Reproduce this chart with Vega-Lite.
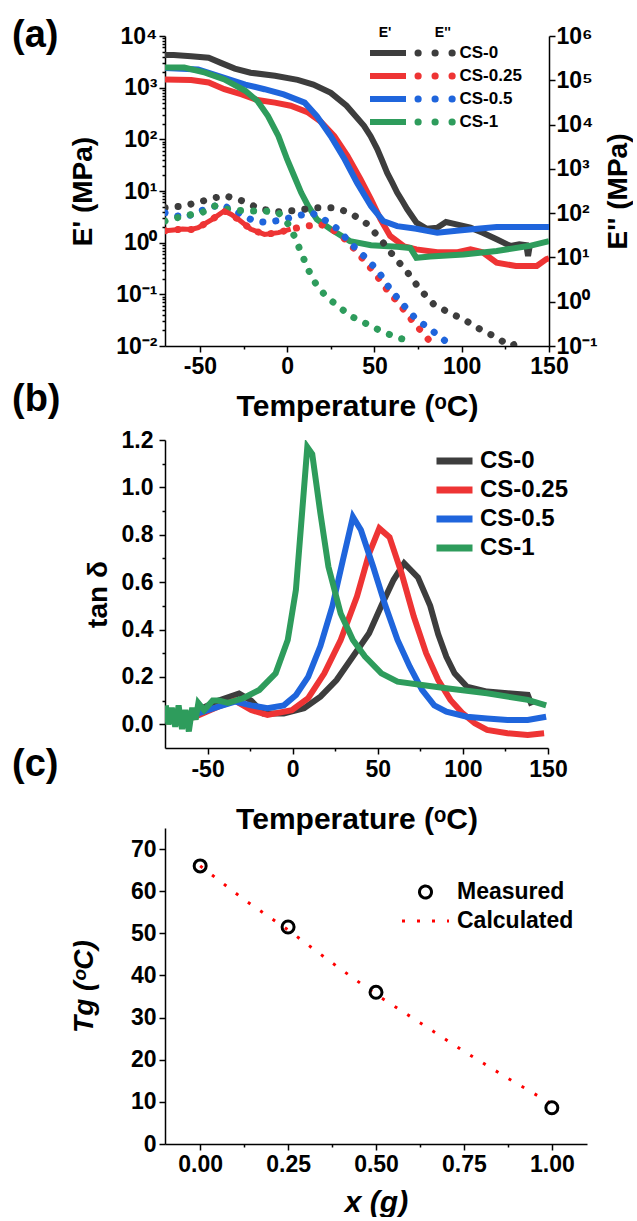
{
"$schema": "https://vega.github.io/schema/vega-lite/v6.json",
"background": "white",
"padding": {"left": 12, "top": 17, "right": 0, "bottom": 0},
"bounds": "flush",
"spacing": 94,
"resolve": {"scale": {"color": "independent", "stroke": "independent"}, "legend": {"color": "independent", "stroke": "independent"}},
"datasets": {
"ep": [
{"sample":"CS-0","T":-70,"E":4266},{"sample":"CS-0","T":-65,"E":4266},{"sample":"CS-0","T":-55,"E":4074},{"sample":"CS-0","T":-45,"E":3802},{"sample":"CS-0","T":-38,"E":3020},{"sample":"CS-0","T":-30,"E":2344},{"sample":"CS-0","T":-21,"E":1950},{"sample":"CS-0","T":-7,"E":1698},{"sample":"CS-0","T":6,"E":1413},{"sample":"CS-0","T":15,"E":1148},{"sample":"CS-0","T":25,"E":794},{"sample":"CS-0","T":34,"E":447},{"sample":"CS-0","T":44,"E":182},{"sample":"CS-0","T":47.8,"E":115},{"sample":"CS-0","T":51.6,"E":64.6},{"sample":"CS-0","T":54.5,"E":38},{"sample":"CS-0","T":57.3,"E":22.4},{"sample":"CS-0","T":60.2,"E":14.5},{"sample":"CS-0","T":63,"E":9.33},{"sample":"CS-0","T":65.9,"E":6.46},{"sample":"CS-0","T":68.7,"E":4.47},{"sample":"CS-0","T":74,"E":2.45},{"sample":"CS-0","T":80,"E":1.86},{"sample":"CS-0","T":86,"E":1.95},{"sample":"CS-0","T":91,"E":2.51},{"sample":"CS-0","T":97,"E":2.26},{"sample":"CS-0","T":105,"E":1.95},{"sample":"CS-0","T":112,"E":1.55},{"sample":"CS-0","T":120,"E":1.16},{"sample":"CS-0","T":128,"E":0.86},{"sample":"CS-0","T":133,"E":0.93},{"sample":"CS-0","T":137,"E":0.89},{"sample":"CS-0","T":138,"E":0.55},{"sample":"CS-0","T":139,"E":0.89},
{"sample":"CS-0.25","T":-70,"E":1445},{"sample":"CS-0.25","T":-55,"E":1413},{"sample":"CS-0.25","T":-45,"E":1259},{"sample":"CS-0.25","T":-36,"E":933},{"sample":"CS-0.25","T":-26,"E":741},{"sample":"CS-0.25","T":-17,"E":575},{"sample":"CS-0.25","T":-7,"E":513},{"sample":"CS-0.25","T":2,"E":447},{"sample":"CS-0.25","T":12,"E":331},{"sample":"CS-0.25","T":19,"E":224},{"sample":"CS-0.25","T":27,"E":115},{"sample":"CS-0.25","T":34.5,"E":47.9},{"sample":"CS-0.25","T":42,"E":17},{"sample":"CS-0.25","T":48,"E":6.92},{"sample":"CS-0.25","T":53.5,"E":2.82},{"sample":"CS-0.25","T":59,"E":1.35},{"sample":"CS-0.25","T":67,"E":0.85},{"sample":"CS-0.25","T":74,"E":0.74},{"sample":"CS-0.25","T":86,"E":0.65},{"sample":"CS-0.25","T":97,"E":0.65},{"sample":"CS-0.25","T":105,"E":0.74},{"sample":"CS-0.25","T":112,"E":0.65},{"sample":"CS-0.25","T":120,"E":0.41},{"sample":"CS-0.25","T":131,"E":0.355},{"sample":"CS-0.25","T":143,"E":0.355},{"sample":"CS-0.25","T":148.5,"E":0.48},{"sample":"CS-0.25","T":150,"E":0.5},
{"sample":"CS-0.5","T":-70,"E":2399},{"sample":"CS-0.5","T":-51,"E":2239},{"sample":"CS-0.5","T":-36,"E":1549},{"sample":"CS-0.5","T":-24,"E":1148},{"sample":"CS-0.5","T":-13,"E":933},{"sample":"CS-0.5","T":-2,"E":741},{"sample":"CS-0.5","T":10,"E":513},{"sample":"CS-0.5","T":17,"E":282},{"sample":"CS-0.5","T":25,"E":115},{"sample":"CS-0.5","T":33,"E":40.7},{"sample":"CS-0.5","T":40,"E":14.5},{"sample":"CS-0.5","T":48,"E":5.13},{"sample":"CS-0.5","T":55,"E":2.63},{"sample":"CS-0.5","T":63,"E":2.09},{"sample":"CS-0.5","T":74,"E":1.86},{"sample":"CS-0.5","T":86,"E":1.55},{"sample":"CS-0.5","T":97,"E":1.7},{"sample":"CS-0.5","T":109,"E":1.86},{"sample":"CS-0.5","T":120,"E":2.0},{"sample":"CS-0.5","T":150,"E":2.0},
{"sample":"CS-1","T":-70,"E":2455},{"sample":"CS-1","T":-59,"E":2455},{"sample":"CS-1","T":-47,"E":1950},{"sample":"CS-1","T":-36,"E":1445},{"sample":"CS-1","T":-24,"E":871},{"sample":"CS-1","T":-17,"E":550},{"sample":"CS-1","T":-11,"E":282},{"sample":"CS-1","T":-5,"E":115},{"sample":"CS-1","T":0,"E":40.7},{"sample":"CS-1","T":4,"E":19.5},{"sample":"CS-1","T":8,"E":9.33},{"sample":"CS-1","T":12,"E":5.13},{"sample":"CS-1","T":17,"E":2.82},{"sample":"CS-1","T":25,"E":1.82},{"sample":"CS-1","T":36,"E":1.07},{"sample":"CS-1","T":48,"E":0.89},{"sample":"CS-1","T":63,"E":0.83},{"sample":"CS-1","T":70.5,"E":0.79},{"sample":"CS-1","T":74,"E":0.51},{"sample":"CS-1","T":82,"E":0.54},{"sample":"CS-1","T":101,"E":0.59},{"sample":"CS-1","T":120,"E":0.69},{"sample":"CS-1","T":139,"E":0.87},{"sample":"CS-1","T":150,"E":1.07}
],
"epp": [
{"grade":"CS-0","T":-70,"E2":133},{"grade":"CS-0","T":-59,"E2":145},{"grade":"CS-0","T":-45,"E2":204},{"grade":"CS-0","T":-36,"E2":251},{"grade":"CS-0","T":-26,"E2":191},{"grade":"CS-0","T":-15,"E2":123},{"grade":"CS-0","T":-5,"E2":107},{"grade":"CS-0","T":6,"E2":117},{"grade":"CS-0","T":17,"E2":133},{"grade":"CS-0","T":27,"E2":133},{"grade":"CS-0","T":36,"E2":102},{"grade":"CS-0","T":46,"E2":56.2},{"grade":"CS-0","T":53.5,"E2":25.7},{"grade":"CS-0","T":61,"E2":10.7},{"grade":"CS-0","T":69,"E2":4.57},{"grade":"CS-0","T":76,"E2":1.91},{"grade":"CS-0","T":84,"E2":0.87},{"grade":"CS-0","T":93,"E2":0.56},{"grade":"CS-0","T":101,"E2":0.4},{"grade":"CS-0","T":110.5,"E2":0.24},{"grade":"CS-0","T":120,"E2":0.155},{"grade":"CS-0","T":127.6,"E2":0.1},{"grade":"CS-0","T":135,"E2":0.126},
{"grade":"CS-0.25","T":-70,"E2":39.8},{"grade":"CS-0.25","T":-65,"E2":41.7},{"grade":"CS-0.25","T":-60,"E2":43.7},{"grade":"CS-0.25","T":-55,"E2":42.7},{"grade":"CS-0.25","T":-51,"E2":46.8},{"grade":"CS-0.25","T":-43,"E2":72.4},{"grade":"CS-0.25","T":-36,"E2":112},{"grade":"CS-0.25","T":-32,"E2":93.3},{"grade":"CS-0.25","T":-28,"E2":72.4},{"grade":"CS-0.25","T":-21,"E2":43.7},{"grade":"CS-0.25","T":-13,"E2":33.1},{"grade":"CS-0.25","T":-5,"E2":36.3},{"grade":"CS-0.25","T":2,"E2":43.7},{"grade":"CS-0.25","T":12,"E2":51.3},{"grade":"CS-0.25","T":19,"E2":56.2},{"grade":"CS-0.25","T":27,"E2":39.8},{"grade":"CS-0.25","T":34.5,"E2":23.4},{"grade":"CS-0.25","T":42,"E2":10.7},{"grade":"CS-0.25","T":50,"E2":4.57},{"grade":"CS-0.25","T":57,"E2":1.91},{"grade":"CS-0.25","T":65,"E2":0.81},{"grade":"CS-0.25","T":72.5,"E2":0.34},{"grade":"CS-0.25","T":80,"E2":0.155},{"grade":"CS-0.25","T":84,"E2":0.1},
{"grade":"CS-0.5","T":-70,"E2":102},{"grade":"CS-0.5","T":-59,"E2":79.4},{"grade":"CS-0.5","T":-47,"E2":123},{"grade":"CS-0.5","T":-38,"E2":158},{"grade":"CS-0.5","T":-28,"E2":102},{"grade":"CS-0.5","T":-19,"E2":66.1},{"grade":"CS-0.5","T":-11,"E2":61.7},{"grade":"CS-0.5","T":-2,"E2":72.4},{"grade":"CS-0.5","T":6,"E2":87.1},{"grade":"CS-0.5","T":14,"E2":102},{"grade":"CS-0.5","T":21,"E2":72.4},{"grade":"CS-0.5","T":29,"E2":43.7},{"grade":"CS-0.5","T":36,"E2":21.4},{"grade":"CS-0.5","T":44,"E2":10.7},{"grade":"CS-0.5","T":52,"E2":5.01},{"grade":"CS-0.5","T":59,"E2":1.91},{"grade":"CS-0.5","T":67,"E2":0.81},{"grade":"CS-0.5","T":74,"E2":0.4},{"grade":"CS-0.5","T":82,"E2":0.24},{"grade":"CS-0.5","T":88,"E2":0.155},{"grade":"CS-0.5","T":93,"E2":0.11},
{"grade":"CS-1","T":-70,"E2":66.1},{"grade":"CS-1","T":-59,"E2":87.1},{"grade":"CS-1","T":-49,"E2":102},{"grade":"CS-1","T":-41.5,"E2":145},{"grade":"CS-1","T":-32,"E2":117},{"grade":"CS-1","T":-22.5,"E2":112},{"grade":"CS-1","T":-13,"E2":112},{"grade":"CS-1","T":-5,"E2":102},{"grade":"CS-1","T":0,"E2":61.7},{"grade":"CS-1","T":4,"E2":30.9},{"grade":"CS-1","T":8,"E2":12.9},{"grade":"CS-1","T":12,"E2":5.37},{"grade":"CS-1","T":17,"E2":2.29},{"grade":"CS-1","T":23,"E2":1.23},{"grade":"CS-1","T":29,"E2":0.81},{"grade":"CS-1","T":36,"E2":0.48},{"grade":"CS-1","T":44,"E2":0.34},{"grade":"CS-1","T":53.5,"E2":0.22},{"grade":"CS-1","T":63,"E2":0.155},{"grade":"CS-1","T":70.5,"E2":0.13}
],
"tan": [
{"sample":"CS-0","T":-74.5,"tan":0.03},{"sample":"CS-0","T":-60,"tan":0.046},{"sample":"CS-0","T":-43.5,"tan":0.1},{"sample":"CS-0","T":-31.5,"tan":0.13},{"sample":"CS-0","T":-24.4,"tan":0.1},{"sample":"CS-0","T":-17.2,"tan":0.046},{"sample":"CS-0","T":-5.2,"tan":0.046},{"sample":"CS-0","T":6.7,"tan":0.068},{"sample":"CS-0","T":16.3,"tan":0.117},{"sample":"CS-0","T":25.8,"tan":0.187},{"sample":"CS-0","T":35.4,"tan":0.286},{"sample":"CS-0","T":44.9,"tan":0.384},{"sample":"CS-0","T":52.1,"tan":0.5},{"sample":"CS-0","T":59.3,"tan":0.61},{"sample":"CS-0","T":65.5,"tan":0.68},{"sample":"CS-0","T":73.6,"tan":0.62},{"sample":"CS-0","T":80.8,"tan":0.5},{"sample":"CS-0","T":85.5,"tan":0.38},{"sample":"CS-0","T":90.3,"tan":0.285},{"sample":"CS-0","T":95.1,"tan":0.215},{"sample":"CS-0","T":102.3,"tan":0.159},{"sample":"CS-0","T":114.2,"tan":0.138},{"sample":"CS-0","T":126.2,"tan":0.131},{"sample":"CS-0","T":138.1,"tan":0.124},{"sample":"CS-0","T":140.5,"tan":0.08},
{"sample":"CS-0.25","T":-74.5,"tan":0.011},{"sample":"CS-0.25","T":-57.8,"tan":0.03},{"sample":"CS-0.25","T":-43.5,"tan":0.075},{"sample":"CS-0.25","T":-33.9,"tan":0.1},{"sample":"CS-0.25","T":-24.4,"tan":0.06},{"sample":"CS-0.25","T":-14.8,"tan":0.04},{"sample":"CS-0.25","T":-0.5,"tan":0.06},{"sample":"CS-0.25","T":9.1,"tan":0.11},{"sample":"CS-0.25","T":18.6,"tan":0.215},{"sample":"CS-0.25","T":28.2,"tan":0.356},{"sample":"CS-0.25","T":37.8,"tan":0.54},{"sample":"CS-0.25","T":44.9,"tan":0.72},{"sample":"CS-0.25","T":50.9,"tan":0.827},{"sample":"CS-0.25","T":56.9,"tan":0.79},{"sample":"CS-0.25","T":64,"tan":0.637},{"sample":"CS-0.25","T":71.2,"tan":0.454},{"sample":"CS-0.25","T":78.4,"tan":0.3},{"sample":"CS-0.25","T":85.5,"tan":0.187},{"sample":"CS-0.25","T":92.7,"tan":0.103},{"sample":"CS-0.25","T":99.9,"tan":0.046},{"sample":"CS-0.25","T":107,"tan":0.004},{"sample":"CS-0.25","T":114.2,"tan":-0.024},{"sample":"CS-0.25","T":126.2,"tan":-0.038},{"sample":"CS-0.25","T":138.1,"tan":-0.045},{"sample":"CS-0.25","T":147.7,"tan":-0.038},
{"sample":"CS-0.5","T":-74.5,"tan":0.025},{"sample":"CS-0.5","T":-58,"tan":0.04},{"sample":"CS-0.5","T":-43.5,"tan":0.075},{"sample":"CS-0.5","T":-33.9,"tan":0.096},{"sample":"CS-0.5","T":-24.4,"tan":0.08},{"sample":"CS-0.5","T":-14.8,"tan":0.068},{"sample":"CS-0.5","T":-5.2,"tan":0.08},{"sample":"CS-0.5","T":2,"tan":0.124},{"sample":"CS-0.5","T":9.1,"tan":0.2},{"sample":"CS-0.5","T":16.3,"tan":0.33},{"sample":"CS-0.5","T":23.4,"tan":0.5},{"sample":"CS-0.5","T":29.4,"tan":0.69},{"sample":"CS-0.5","T":35.4,"tan":0.876},{"sample":"CS-0.5","T":40.1,"tan":0.82},{"sample":"CS-0.5","T":47.3,"tan":0.665},{"sample":"CS-0.5","T":54.5,"tan":0.5},{"sample":"CS-0.5","T":61.6,"tan":0.356},{"sample":"CS-0.5","T":68.8,"tan":0.243},{"sample":"CS-0.5","T":76,"tan":0.145},{"sample":"CS-0.5","T":83.2,"tan":0.08},{"sample":"CS-0.5","T":90.3,"tan":0.053},{"sample":"CS-0.5","T":102.3,"tan":0.032},{"sample":"CS-0.5","T":114.2,"tan":0.025},{"sample":"CS-0.5","T":126.2,"tan":0.018},{"sample":"CS-0.5","T":138.1,"tan":0.018},{"sample":"CS-0.5","T":148.9,"tan":0.032},
{"sample":"CS-1","T":-74.5,"tan":0.08},{"sample":"CS-1","T":-73,"tan":0.0},{"sample":"CS-1","T":-71,"tan":0.07},{"sample":"CS-1","T":-69,"tan":-0.01},{"sample":"CS-1","T":-67,"tan":0.08},{"sample":"CS-1","T":-65,"tan":-0.02},{"sample":"CS-1","T":-63,"tan":0.06},{"sample":"CS-1","T":-61,"tan":-0.03},{"sample":"CS-1","T":-59,"tan":0.07},{"sample":"CS-1","T":-57,"tan":0.02},{"sample":"CS-1","T":-55.4,"tan":0.09},{"sample":"CS-1","T":-52,"tan":0.06},{"sample":"CS-1","T":-47,"tan":0.1},{"sample":"CS-1","T":-43.5,"tan":0.1},{"sample":"CS-1","T":-38,"tan":0.09},{"sample":"CS-1","T":-29.1,"tan":0.11},{"sample":"CS-1","T":-19.6,"tan":0.145},{"sample":"CS-1","T":-10,"tan":0.215},{"sample":"CS-1","T":-2.9,"tan":0.356},{"sample":"CS-1","T":1.9,"tan":0.567},{"sample":"CS-1","T":5.5,"tan":0.89},{"sample":"CS-1","T":8.6,"tan":1.17},{"sample":"CS-1","T":11.5,"tan":1.14},{"sample":"CS-1","T":16.3,"tan":0.89},{"sample":"CS-1","T":21,"tan":0.665},{"sample":"CS-1","T":28.2,"tan":0.468},{"sample":"CS-1","T":35.4,"tan":0.356},{"sample":"CS-1","T":42.5,"tan":0.286},{"sample":"CS-1","T":52.1,"tan":0.215},{"sample":"CS-1","T":61.6,"tan":0.18},{"sample":"CS-1","T":76,"tan":0.166},{"sample":"CS-1","T":90.3,"tan":0.152},{"sample":"CS-1","T":114.2,"tan":0.131},{"sample":"CS-1","T":138.1,"tan":0.103},{"sample":"CS-1","T":148.9,"tan":0.08}
],
"tg": [
{"kind":"Measured","x":0,"Tg":66},{"kind":"Measured","x":0.25,"Tg":51.5},{"kind":"Measured","x":0.5,"Tg":36},{"kind":"Measured","x":1,"Tg":8.6},
{"kind":"Calculated","x":0,"Tg":66},{"kind":"Calculated","x":0.125,"Tg":58},{"kind":"Calculated","x":0.25,"Tg":50.8},{"kind":"Calculated","x":0.375,"Tg":43},{"kind":"Calculated","x":0.5,"Tg":35.5},{"kind":"Calculated","x":0.625,"Tg":28.8},{"kind":"Calculated","x":0.75,"Tg":22},{"kind":"Calculated","x":0.875,"Tg":15.6},{"kind":"Calculated","x":1,"Tg":9.5}
]
},
"vconcat": [
{
"width": 384, "height": 310,
"title": {"text": "(a)", "dx": -153, "dy": 30, "offset": 0},
"resolve": {"scale": {"y": "independent"}},
"layer": [
{
"data": {"name": "ep"},
"mark": {"type": "line", "strokeWidth": 6, "clip": true},
"encoding": {
"x": {"field": "T", "type": "quantitative", "title": "Temperature (ᵒC)",
 "scale": {"domain": [-70, 150], "nice": false, "zero": false},
 "axis": {"values": [-50,-25,0,25,50,75,100,125,150], "labelExpr": "datum.value % 50 === 0 ? '' + datum.value : ''", "tickSize": {"condition": {"test": "datum.value % 50 === 0", "value": 6}, "value": 3}, "labelPadding": 3, "titlePadding": 13, "titleFontSize": 30}},
"y": {"field": "E", "type": "quantitative", "title": "E' (MPa)",
 "scale": {"type": "log", "domain": [0.01, 10000], "nice": false},
 "axis": {"values": [0.01,0.02,0.03,0.04,0.05,0.06,0.07,0.08,0.09,0.1,0.2,0.3,0.4,0.5,0.6,0.7,0.8,0.9,1,2,3,4,5,6,7,8,9,10,20,30,40,50,60,70,80,90,100,200,300,400,500,600,700,800,900,1000,2000,3000,4000,5000,6000,7000,8000,9000,10000],
  "labelExpr": "abs(log(datum.value)/LN10 - round(log(datum.value)/LN10)) < 0.001 ? '10' + (round(log(datum.value)/LN10) < 0 ? '⁻' : '') + substring('⁰¹²³⁴⁵⁶', abs(round(log(datum.value)/LN10)), abs(round(log(datum.value)/LN10)) + 1) : ''",
  "tickSize": {"condition": {"test": "abs(log(datum.value)/LN10 - round(log(datum.value)/LN10)) < 0.001", "value": 6}, "value": 3},
  "labelPadding": 2, "titlePadding": 18}},
"stroke": {"field": "sample", "type": "nominal",
 "scale": {"range": ["#3d3d3d","#ee3434","#1f65dc","#2e9c5c"]},
 "legend": {"orient": "none", "legendX": 202, "legendY": -10, "title": "\u200b\u00a0\u00a0\u00a0E'", "titleFontSize": 14, "titlePadding": 3, "symbolType": "stroke", "symbolSize": 1296, "symbolStrokeWidth": 6, "labelExpr": "''", "labelOffset": 5, "clipHeight": 20, "rowPadding": 3}}
}
},
{
"layer": [
{
"data": {"name": "epp"},
"mark": {"type": "line", "strokeWidth": 7, "strokeDash": [0.1, 13], "strokeCap": "round", "clip": true},
"encoding": {
"x": {"field": "T", "type": "quantitative", "title": "Temperature (ᵒC)"},
"y": {"field": "E2", "type": "quantitative", "title": "E'' (MPa)",
 "scale": {"type": "log", "domain": [0.1, 1000000], "nice": false},
 "axis": {"orient": "right", "titleAngle": 270, "values": [0.1,1,10,100,1000,10000,100000,1000000],
  "labelExpr": "'10' + (round(log(datum.value)/LN10) < 0 ? '⁻' : '') + substring('⁰¹²³⁴⁵⁶', abs(round(log(datum.value)/LN10)), abs(round(log(datum.value)/LN10)) + 1)",
  "tickSize": 6, "labelPadding": 1, "titlePadding": 35}},
"color": {"field": "grade", "type": "nominal",
 "scale": {"domain": ["CS-0","CS-0.25","CS-0.5","CS-1"], "range": ["#3d3d3d","#ee3434","#1f65dc","#2e9c5c"]},
 "legend": {"orient": "none", "legendX": 246.5, "legendY": -10, "title": "\u200b\u00a0\u00a0\u00a0\u00a0\u00a0\u00a0E''", "titleFontSize": 14, "titlePadding": 3, "symbolType": "M-0.85,0L-0.84,0M0,0L0.01,0M0.85,0L0.86,0", "symbolSize": 1600, "symbolStrokeWidth": 7, "labelFontSize": 17, "labelOffset": 1, "clipHeight": 20, "rowPadding": 3,
  "encode": {"symbols": {"update": {"strokeCap": {"value": "round"}, "strokeDash": {"value": [1, 0]}}}}}}
}
},
{
"data": {"name": "epp"},
"transform": [{"filter": "datum.grade === 'CS-0.25' && datum.T <= 2"}],
"mark": {"type": "line", "strokeWidth": 5, "clip": true},
"encoding": {
"x": {"field": "T", "type": "quantitative", "title": "Temperature (ᵒC)"},
"y": {"field": "E2", "type": "quantitative", "title": "E'' (MPa)"},
"color": {"field": "grade", "type": "nominal", "legend": null}
}
}
]
}
]
},
{
"bounds": "flush",
"spacing": 80,
"resolve": {"scale": {"color": "independent", "stroke": "independent"}, "legend": {"color": "independent", "stroke": "independent"}},
"vconcat": [
{
"width": 383, "height": 308,
"title": {"text": "(b)", "dx": -153, "dy": -10, "offset": 0},
"data": {"name": "tan"},
"mark": {"type": "line", "strokeWidth": 6, "clip": true},
"encoding": {
"x": {"field": "T", "type": "quantitative", "title": "Temperature (ᵒC)",
 "scale": {"domain": [-75, 150], "nice": false, "zero": false},
 "axis": {"values": [-50,-25,0,25,50,75,100,125,150], "labelExpr": "datum.value % 50 === 0 ? '' + datum.value : ''", "tickSize": {"condition": {"test": "datum.value % 50 === 0", "value": 6}, "value": 3}, "labelPadding": 4, "titlePadding": 23, "titleFontSize": 30}},
"y": {"field": "tan", "type": "quantitative", "title": "tan δ",
 "scale": {"domain": [-0.1, 1.2], "nice": false, "zero": false},
 "axis": {"values": [0,0.1,0.2,0.3,0.4,0.5,0.6,0.7,0.8,0.9,1.0,1.1,1.2], "labelExpr": "round(datum.value*10) % 2 === 0 ? format(datum.value, '.1f') : ''", "tickSize": {"condition": {"test": "round(datum.value*10) % 2 === 0", "value": 6}, "value": 3}, "labelPadding": 6, "titlePadding": 9}},
"color": {"field": "sample", "type": "nominal",
 "scale": {"domain": ["CS-0","CS-0.25","CS-0.5","CS-1"], "range": ["#3d3d3d","#ee3434","#1f65dc","#2e9c5c"]},
 "legend": {"orient": "none", "legendX": 268, "legendY": 9, "title": null, "symbolType": "stroke", "symbolSize": 1296, "symbolStrokeWidth": 7, "labelFontSize": 24, "labelOffset": 4, "clipHeight": 24, "rowPadding": 5}}
}
},
{
"width": 422, "height": 316,
"title": {"text": "(c)", "dx": -153, "dy": -44, "offset": 0},
"data": {"name": "tg"},
"layer": [
{
"transform": [{"filter": "datum.kind === 'Calculated'"}],
"mark": {"type": "line", "strokeWidth": 3, "strokeDash": [3, 12]},
"encoding": {
"x": {"field": "x", "type": "quantitative", "title": "x (g)",
 "scale": {"domain": [-0.1, 1.1], "nice": false, "zero": false},
 "axis": {"values": [0,0.125,0.25,0.375,0.5,0.625,0.75,0.875,1], "labelExpr": "(datum.value*4) % 1 === 0 ? format(datum.value, '.2f') : ''", "tickSize": {"condition": {"test": "(datum.value*4) % 1 === 0", "value": 6}, "value": 3}, "labelPadding": 3, "titlePadding": 11, "titleFontStyle": "italic", "titleFontSize": 30}},
"y": {"field": "Tg", "type": "quantitative", "title": "Tg (ᵒC)",
 "scale": {"domain": [0, 75], "nice": false},
 "axis": {"values": [0,5,10,15,20,25,30,35,40,45,50,55,60,65,70,75], "labelExpr": "datum.value % 10 === 0 ? '' + datum.value : ''", "tickSize": {"condition": {"test": "datum.value % 10 === 0", "value": 6}, "value": 3}, "labelPadding": 3, "titlePadding": 32, "titleFontStyle": "italic"}},
"stroke": {"field": "kind", "type": "nominal",
 "scale": {"domain": ["Measured", "Calculated"], "range": ["#000000", "#ff0000"]},
 "legend": {"orient": "none", "legendX": 235.5, "legendY": 52, "title": null, "symbolSize": 2209, "symbolStrokeWidth": 3, "labelFontSize": 23, "labelOffset": 6.5, "clipHeight": 24, "rowPadding": 5,
  "encode": {"symbols": {"update": {
   "shape": [{"test": "datum.value === 'Calculated'", "value": "stroke"}, {"value": "M-0.255,0A0.255,0.255,0,1,0,0.255,0A0.255,0.255,0,1,0,-0.255,0Z"}],
   "strokeDash": [{"test": "datum.value === 'Calculated'", "value": [3, 12]}, {"value": [1, 0]}],
   "fill": {"value": "transparent"}}}}}}
}
},
{
"transform": [{"filter": "datum.kind === 'Measured'"}],
"mark": {"type": "point", "shape": "circle", "filled": false, "size": 144, "strokeWidth": 3, "opacity": 1},
"encoding": {
"x": {"field": "x", "type": "quantitative", "title": "x (g)"},
"y": {"field": "Tg", "type": "quantitative", "title": "Tg (ᵒC)"},
"stroke": {"field": "kind", "type": "nominal"}
}
}
]
}
]
}
],
"config": {
"font": "Liberation Sans",
"view": {"stroke": null},
"axis": {"domainColor": "#000", "domainWidth": 1.5, "tickColor": "#000", "tickWidth": 1.5, "labelColor": "#000", "labelFont": "Liberation Sans", "labelFontWeight": "bold", "labelFontSize": 23, "titleColor": "#000", "titleFont": "Liberation Sans", "titleFontWeight": "bold", "titleFontSize": 28, "grid": false, "labelOverlap": false, "labelFlush": false, "labelBound": false},
"legend": {"labelFont": "Liberation Sans", "labelFontWeight": "bold", "labelColor": "#000", "titleFont": "Liberation Sans", "titleColor": "#000", "titleFontWeight": "bold", "padding": 0},
"title": {"font": "Liberation Sans", "fontWeight": "bold", "fontSize": 38, "color": "#000", "anchor": "start", "frame": "group"}
}
}
